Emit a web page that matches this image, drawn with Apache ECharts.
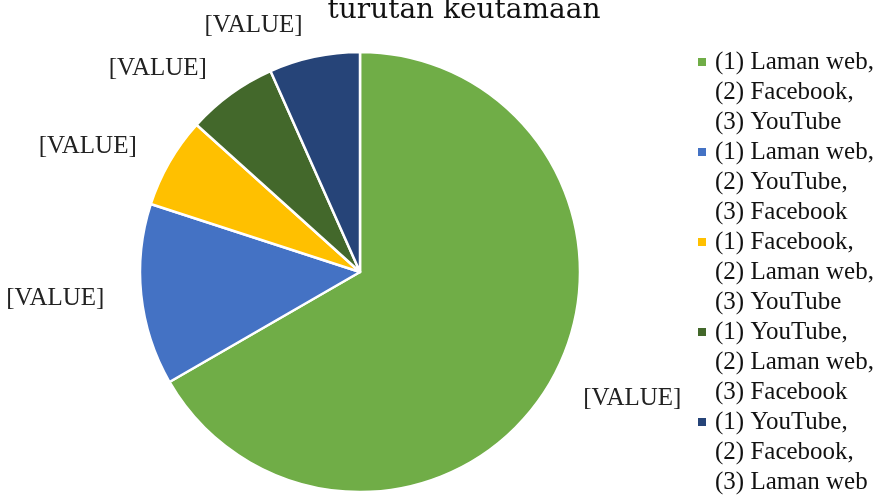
<!DOCTYPE html>
<html>
<head>
<meta charset="utf-8">
<script src="https://cdn.jsdelivr.net/npm/echarts@6/dist/echarts.min.js"></script>
<style>
  html, body { margin: 0; padding: 0; background: #fff; }
  #chart { width: 883px; height: 498px; }
</style>
</head>
<body>
<div id="chart"></div>
<script>
  const categories = [
    "(1) Laman web,\n(2) Facebook,\n(3) YouTube",
    "(1) Laman web,\n(2) YouTube,\n(3) Facebook",
    "(1) Facebook,\n(2) Laman web,\n(3) YouTube",
    "(1) YouTube,\n(2) Laman web,\n(3) Facebook",
    "(1) YouTube,\n(2) Facebook,\n(3) Laman web"
  ];
  const values = [10, 2, 1, 1, 1];
  const colors = ["#70ad47", "#4472c4", "#ffc000", "#43682b", "#264478"];
  const titleText = "turutan keutamaan";

  const serif = "'Liberation Serif', 'Times New Roman', serif";

  // one coloured square per legend entry, drawn as rich text so it sits on the first line
  const rich = {
    g: { width: 9, fontSize: 25, fontFamily: serif },
    i: { width: 17, fontSize: 25, fontFamily: serif },
    t: { fontSize: 25, fontFamily: serif, color: "#111", lineHeight: 30 }
  };
  colors.forEach((c, i) => {
    rich["m" + i] = { width: 8, height: 8, backgroundColor: c, fontSize: 8 };
  });

  const chart = echarts.init(document.getElementById("chart"));
  chart.setOption({
    animation: false,
    title: {
      text: titleText,
      left: 464,
      textAlign: "center",
      top: -3,
      padding: 0,
      textStyle: { fontFamily: "'DejaVu Serif', serif", fontSize: 28, fontWeight: "normal", color: "#111" }
    },
    legend: {
      orient: "vertical",
      left: 692,
      top: 47,
      height: 460,
      padding: 0,
      itemGap: 0,
      itemWidth: 0,
      itemHeight: 0,
      selectedMode: false,
      data: categories,
      textStyle: { rich: rich, lineHeight: 30 },
      formatter: (name) => {
        const idx = categories.indexOf(name);
        const lines = name.split("\n");
        return `{m${idx}| }{g| }{t|${lines[0]}}\n` +
          lines.slice(1).map((l) => `{i| }{t|${l}}`).join("\n");
      }
    },
    series: [
      {
        type: "pie",
        center: [360, 272],
        radius: 220,
        startAngle: 90,
        clockwise: true,
        avoidLabelOverlap: false,
        itemStyle: { borderColor: "#fff", borderWidth: 2.5 },
        label: {
          show: true,
          position: "outside",
          formatter: "[VALUE]",
          fontFamily: serif,
          fontSize: 25,
          color: "#222"
        },
        labelLine: { show: false, length: 32, length2: 0 },
        data: categories.map((name, i) => ({
          name: name,
          value: values[i],
          itemStyle: { color: colors[i] }
        }))
      }
    ]
  });
</script>
</body>
</html>
